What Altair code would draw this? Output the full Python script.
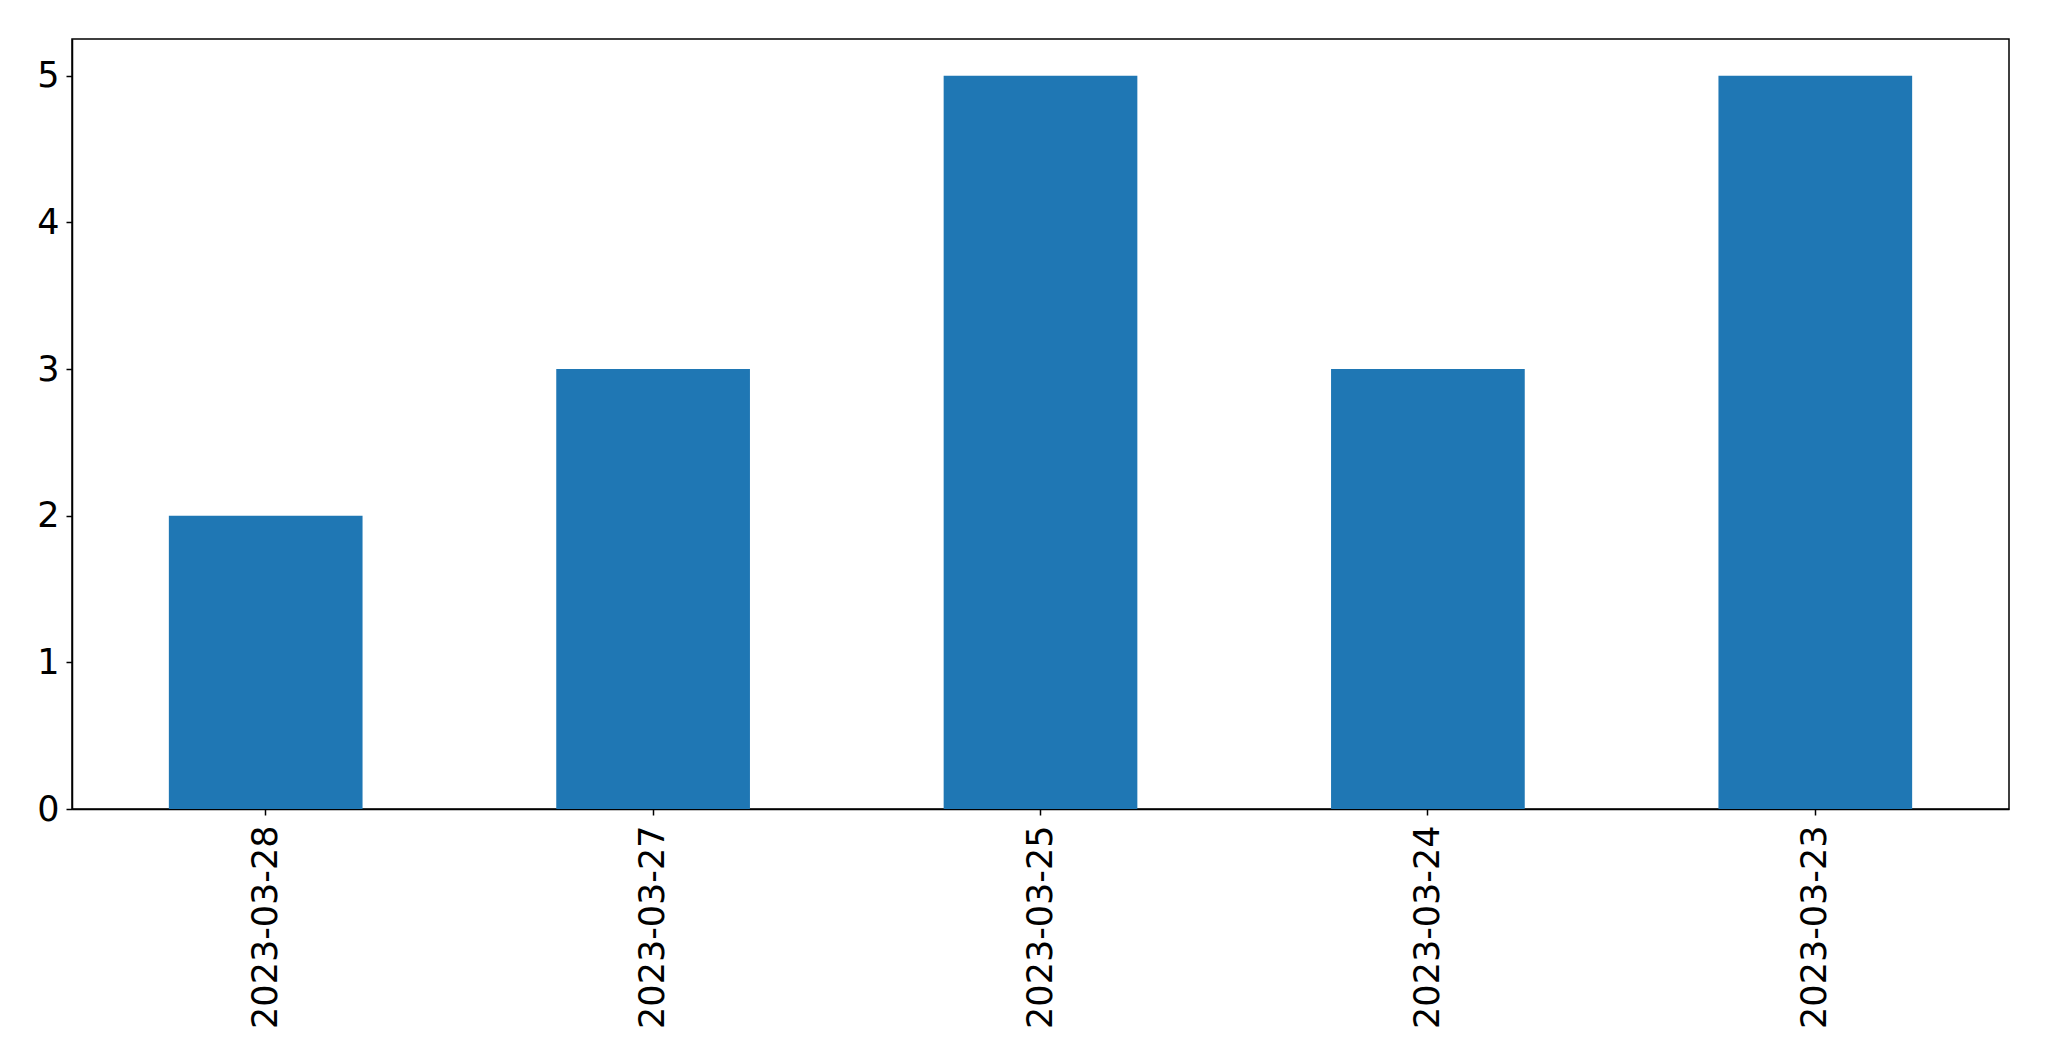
import altair as alt
import pandas as pd

dates = ["2023-03-28", "2023-03-27", "2023-03-25", "2023-03-24", "2023-03-23"]
counts = [2, 3, 5, 3, 5]

df = pd.DataFrame({"date": dates, "count": counts})

chart = (
    alt.Chart(df)
    .mark_bar(color="#1f77b4")
    .encode(
        x=alt.X(
            "date:N",
            sort=dates,
            scale=alt.Scale(paddingInner=0.5, paddingOuter=0.25),
            axis=alt.Axis(title=None, labelAngle=-90, labelPadding=10, labelLimit=0),
        ),
        y=alt.Y(
            "count:Q",
            scale=alt.Scale(domain=[0, 5.25], nice=False),
            axis=alt.Axis(title=None, values=[0, 1, 2, 3, 4, 5], grid=False, labelPadding=7),
        ),
    )
    .properties(
        width=1937,
        height=770,
        autosize=alt.AutoSizeParams(type="none"),
        padding={"left": 64, "top": 31, "right": 30, "bottom": 230},
    )
    .configure_view(stroke="black", strokeWidth=1.5)
    .configure_axis(
        domainColor="black",
        domainWidth=1.5,
        tickColor="black",
        tickWidth=1.5,
        tickSize=6,
        labelFont="DejaVu Sans",
        labelFontSize=35,
        labelColor="black",
        grid=False,
    )
)

chart.save("out.html", embed_options={"renderer": "svg", "actions": False})
